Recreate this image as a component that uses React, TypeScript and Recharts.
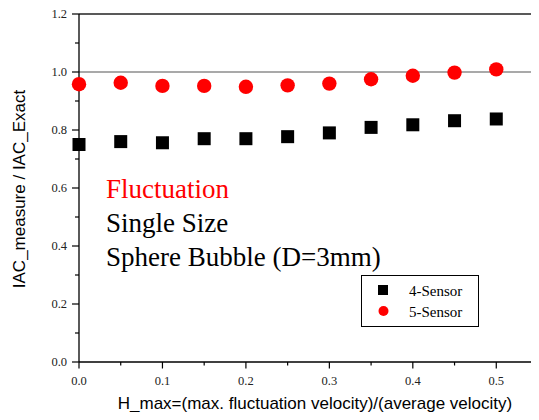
import React from "react";
import { ScatterChart, Scatter, XAxis, YAxis, ReferenceLine } from "recharts";

// H_max values (x) and the two sensor series
const hMax = [0, 0.05, 0.1, 0.15, 0.2, 0.25, 0.3, 0.35, 0.4, 0.45, 0.5];
const fourSensor = [0.75, 0.76, 0.756, 0.77, 0.77, 0.777, 0.79, 0.809, 0.818, 0.832, 0.838];
const fiveSensor = [0.958, 0.963, 0.952, 0.952, 0.949, 0.954, 0.96, 0.975, 0.987, 0.998, 1.009];

const xTicks = [0, 0.05, 0.1, 0.15, 0.2, 0.25, 0.3, 0.35, 0.4, 0.45, 0.5];
const yTicks = [0, 0.1, 0.2, 0.3, 0.4, 0.5, 0.6, 0.7, 0.8, 0.9, 1.0, 1.1, 1.2];

const seriesNames = ["4-Sensor", "5-Sensor"];
const noteLines = ["Fluctuation", "Single Size", "Sphere Bubble (D=3mm)"];

const SERIF = '"Liberation Serif", "Times New Roman", serif';
const SANS = '"Liberation Sans", Arial, sans-serif';
const RED = "#ff0000";

const fourData = hMax.map((x, i) => ({ x, y: fourSensor[i] }));
const fiveData = hMax.map((x, i) => ({ x, y: fiveSensor[i] }));

function XTick({ x, y, payload }: any) {
    const v = payload.value;
    const major = Math.round(v * 100) % 10 === 0;
    return (
        <g>
            <line x1={x} x2={x} y1={y} y2={y + (major ? 6.5 : 3.5)} stroke="#000" strokeWidth={1.2} />
            {major && (
                <text x={x} y={y + 23} textAnchor="middle" fontFamily={SERIF} fontSize={12.5} fill="#222">
                    {v.toFixed(1)}
                </text>
            )}
        </g>
    );
}

function YTick({ x, y, payload }: any) {
    const v = payload.value;
    const major = Math.round(v * 10) % 2 === 0;
    return (
        <g>
            <line x1={x} x2={x - (major ? 7 : 4)} y1={y} y2={y} stroke="#000" strokeWidth={1.2} />
            {major && (
                <text x={x - 12} y={y + 4} textAnchor="end" fontFamily={SERIF} fontSize={12.5} fill="#222">
                    {v.toFixed(1)}
                </text>
            )}
        </g>
    );
}

const Square = ({ cx, cy }: any) => <rect x={cx - 6.5} y={cy - 6.5} width={13} height={13} fill="#000" />;
const Dot = ({ cx, cy }: any) => <circle cx={cx} cy={cy} r={7.2} fill={RED} />;

export default function App() {
    return (
        <ScatterChart width={531} height={404} margin={{ top: 6, right: 1, bottom: 20, left: 11 }}>
            <XAxis
                type="number"
                dataKey="x"
                domain={[0, 0.55]}
                ticks={xTicks}
                interval={0}
                tickLine={false}
                tickSize={0}
                tickMargin={0}
                tick={<XTick />}
                axisLine={{ stroke: "#000", strokeWidth: 1.3 }}
                height={30}
            />
            <YAxis
                type="number"
                dataKey="y"
                domain={[0, 1.2]}
                ticks={yTicks}
                interval={0}
                tickLine={false}
                tickSize={0}
                tickMargin={0}
                tick={<YTick />}
                axisLine={{ stroke: "#000", strokeWidth: 1.3 }}
                width={60}
            />
            <ReferenceLine y={1.2} stroke="#222" strokeWidth={1.3} />
            <ReferenceLine y={1.0} stroke="#555" strokeWidth={1.2} />
            <Scatter name={seriesNames[0]} data={fourData} shape={<Square />} isAnimationActive={false} />
            <Scatter name={seriesNames[1]} data={fiveData} shape={<Dot />} isAnimationActive={false} />

            {/* legend box, lower right */}
            <g>
                <rect x={353.5} y={267.5} width={117} height={51} fill="#fff" stroke="#000" strokeWidth={1} />
                <rect x={370} y={277} width={10} height={10} fill="#000" />
                <circle cx={375.5} cy={303} r={5} fill={RED} />
                <text x={401} y={288} fontFamily={SERIF} fontSize={15} fill="#000">
                    {seriesNames[0]}
                </text>
                <text x={401} y={308.5} fontFamily={SERIF} fontSize={15} fill="#000">
                    {seriesNames[1]}
                </text>
            </g>

            {noteLines.map((t, i) => (
                <text
                    key={t}
                    x={98}
                    y={189.5 + i * 34}
                    fontFamily={SERIF}
                    fontSize={27}
                    fill={i === 0 ? RED : "#000"}
                >
                    {t}
                </text>
            ))}
            <text
                x={17}
                y={181}
                transform="rotate(-90, 17, 181)"
                textAnchor="middle"
                fontFamily={SANS}
                fontSize={17}
                fill="#000"
            >
                IAC_measure / IAC_Exact
            </text>
            <text x={307} y={401} textAnchor="middle" fontFamily={SANS} fontSize={17} fill="#000">
                H_max=(max. fluctuation velocity)/(average velocity)
            </text>
        </ScatterChart>
    );
}
